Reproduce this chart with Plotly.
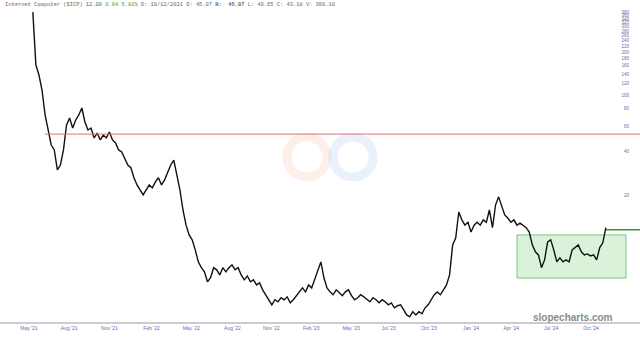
import pandas as pd
import plotly.graph_objects as go

# ---- data (weekly closes) ----
start_date = "2021-05-10"
prices = [
    380, 162, 138, 108, 72.5, 56.9, 44.7, 41.3, 29.9, 32.4,
    41.3, 61.7, 69.1, 58.8, 66.9, 72.5, 81.1, 64.8, 56.9, 58.8,
    50.1, 54.2, 48.5, 52.5, 50.1, 55.1, 48.5, 46.2, 41.3, 40.0,
    36.3, 32.4, 31.0, 26.4, 23.5, 21.7, 20.0, 21.7, 23.5, 22.4,
    24.7, 26.4, 23.5, 25.5, 28.9, 32.4, 35.1, 27.6, 21.7, 15.7,
    12.3, 10.5, 9.7, 8.26, 6.81, 6.20, 5.80, 4.94, 5.27, 6.20,
    5.99, 5.52, 6.20, 5.80, 6.20, 6.49, 5.99, 6.20, 5.52, 5.10,
    5.43, 4.94, 5.10, 4.70, 4.86, 4.34, 4.01, 3.70, 3.41, 3.70,
    3.58, 3.82, 3.70, 3.88, 3.52, 3.70, 3.95, 4.20, 4.48, 4.20,
    4.70, 4.48, 5.10, 5.80, 6.81, 5.27, 4.48, 4.20, 4.01, 4.34,
    4.14, 3.95, 4.20, 4.34, 3.95, 3.70, 3.82, 4.01, 3.88, 3.70,
    3.58, 3.82, 3.70, 3.52, 3.70, 3.58, 3.41, 3.52, 3.25, 3.36,
    3.41, 3.15, 2.90, 2.81, 3.05, 2.90, 3.05, 2.95, 3.25, 3.41,
    3.70, 4.01, 4.20, 4.01, 4.34, 4.70, 5.52, 8.95, 10.0, 15.2,
    13.4, 12.3, 12.9, 11.0, 12.3, 12.9, 12.3, 13.4, 12.9, 15.7,
    11.8, 17.0, 19.4, 17.0, 14.5, 13.8, 12.9, 13.4, 12.3, 12.7,
    12.3, 11.8, 11.0, 8.95, 8.0, 7.62, 6.20, 7.03, 9.4, 9.7,
    8.26, 6.81, 7.26, 6.81, 7.03, 6.81, 8.26, 8.57, 8.95, 8.0,
    7.62, 7.74, 7.50, 7.62, 7.03, 8.57, 9.25, 11.8,
]
dates = pd.date_range(start_date, periods=len(prices), freq="7D")

y_tick_values = list(range(20, 400, 20))
x_tick_dates = ["2021-05-01", "2021-08-01", "2021-11-01", "2022-02-05", "2022-05-07",
                "2022-08-09", "2022-11-06", "2023-02-05", "2023-05-07", "2023-08-01",
                "2023-11-01", "2024-02-05", "2024-05-07", "2024-08-06", "2024-11-05"]
x_tick_labels = ["May '21", "Aug '21", "Nov '21", "Feb '22", "May '22", "Aug '22",
                 "Nov '22", "Feb '23", "May '23", "Jul '23", "Oct '23", "Jan '24",
                 "Apr '24", "Jul '24", "Oct '24"]

resistance_level = 53.3
breakout_level = 11.4
box_low, box_high = 5.25, 10.5
box_start, box_end = "2024-05-20", "2025-01-24"
red_start = "2021-06-06"
green_start = "2024-12-09"

# ---- figure ----
fig = go.Figure()
fig.add_trace(go.Scatter(x=dates, y=prices, mode="lines",
                         line=dict(color="#111111", width=1.4), hoverinfo="skip"))

shapes = [
    # faint watermark logo (two loops)
    dict(type="circle", xref="paper", yref="paper", x0=0.4484, x1=0.5109, y0=0.456, y1=0.582,
         line=dict(color="rgba(252,175,150,0.20)", width=9), layer="below"),
    dict(type="circle", xref="paper", yref="paper", x0=0.520, x1=0.583, y0=0.456, y1=0.582,
         line=dict(color="rgba(150,185,240,0.20)", width=9), layer="below"),
    dict(type="rect", xref="x", yref="y", x0=box_start, x1=box_end, y0=box_low, y1=box_high,
         fillcolor="rgba(120,210,120,0.28)", line=dict(color="#7cc47c", width=1), layer="below"),
    dict(type="line", xref="x", yref="y", x0=red_start, x1="2025-02-25",
         y0=resistance_level, y1=resistance_level, line=dict(color="#e07070", width=1)),
    dict(type="line", xref="x", yref="y", x0=green_start, x1="2025-02-25",
         y0=breakout_level, y1=breakout_level, line=dict(color="#2e9a2e", width=1.5)),
]

header = ("<span style='color:#666'>Internet Computer ($ICP) 12.00 </span>"
          "<span style='color:#3a9a3a'>0.64 5.81%</span>"
          "<span style='color:#666'> D: 10/12/2021 O: 45.07 </span>"
          "<b>H:  45.07</b><span style='color:#666'> L: 40.65 C: 43.18 V: 366.10</span>")

fig.update_layout(
    width=640, height=338,
    margin=dict(l=0, r=0, t=4, b=16),
    paper_bgcolor="white", plot_bgcolor="white",
    showlegend=False,
    shapes=shapes,
    annotations=[
        dict(text=header, xref="paper", yref="paper", x=0.004, y=1.0, xanchor="left",
             yanchor="bottom", yshift=-6, showarrow=False,
             font=dict(family="Liberation Mono", size=5.4, color="#666")),
        dict(text="<b>slopecharts.com</b>", xref="paper", yref="paper", x=0.896, y=0.015,
             xanchor="center", yanchor="middle", showarrow=False,
             font=dict(family="Liberation Sans", size=10, color="#8a8a8a")),
    ],
    xaxis=dict(type="date", range=["2021-02-24", "2025-02-25"], showgrid=False,
               zeroline=False, showline=True, linecolor="#cccccc", linewidth=1.5,
               tickvals=x_tick_dates, ticktext=x_tick_labels, ticks="",
               tickfont=dict(family="Liberation Sans", size=5, color="#6a6ab0")),
    yaxis=dict(type="log", range=[0.4126, 2.6364], side="right", showgrid=False,
               zeroline=False, showline=False, tickvals=y_tick_values,
               ticktext=[str(v) for v in y_tick_values],
               ticklabelposition="inside", ticks="inside", ticklen=9,
               tickcolor="rgba(0,0,0,0)",
               tickfont=dict(family="Liberation Sans", size=4.5, color="#6a6ab0")),
)

fig.write_html("out.html")
